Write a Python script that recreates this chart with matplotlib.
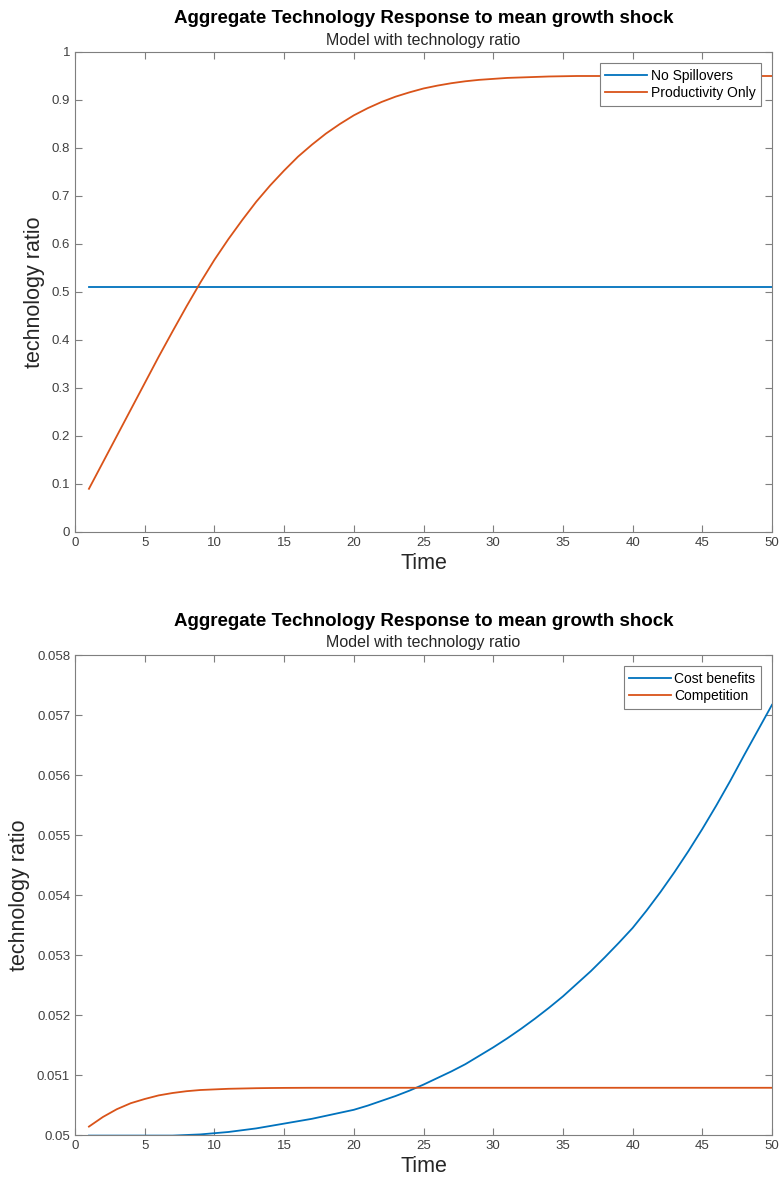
import numpy as np
import matplotlib.pyplot as plt

plt.rcParams['font.family'] = ['Liberation Sans', 'DejaVu Sans']

# datos
t = list(range(1, 51))

no_spill = [0.51] * 50
prod_only = [0.09, 0.145, 0.20, 0.255, 0.31, 0.365, 0.418, 0.47, 0.52, 0.567,
             0.61, 0.65, 0.688, 0.722, 0.753, 0.782, 0.807, 0.83, 0.85, 0.868,
             0.883, 0.896, 0.907, 0.916, 0.924, 0.93, 0.935, 0.939, 0.942, 0.944,
             0.946, 0.947, 0.948, 0.949, 0.9495, 0.95, 0.95, 0.95, 0.95, 0.95,
             0.95, 0.95, 0.95, 0.95, 0.95, 0.95, 0.95, 0.95, 0.95, 0.95]

# desvio sobre 0.05, en unidades de 1e-5
cost_dev = [-1, -1, -1, -1, -1, -1, -1, 0, 1, 3,
            5, 8, 11, 15, 19, 23, 27, 32, 37, 42,
            49, 57, 65, 74, 84, 95, 106, 118, 132, 146,
            161, 177, 194, 212, 231, 252, 273, 296, 320, 345,
            374, 405, 438, 473, 510, 549, 590, 633, 675, 717]
comp_dev = [14, 30, 43, 53, 60, 66, 70, 73, 75, 76,
            77, 77.5, 78, 78.3, 78.5, 78.6, 78.7, 78.7, 78.7, 78.7] + [78.7] * 30

cost_benefits = [0.05 + d * 1e-5 for d in cost_dev]
competition = [0.05 + d * 1e-5 for d in comp_dev]

top_yticks = [0, 0.1, 0.2, 0.3, 0.4, 0.5, 0.6, 0.7, 0.8, 0.9, 1]
top_ylabels = ['0', '0.1', '0.2', '0.3', '0.4', '0.5', '0.6', '0.7', '0.8', '0.9', '1']
bot_yticks = [0.05, 0.051, 0.052, 0.053, 0.054, 0.055, 0.056, 0.057, 0.058]
bot_ylabels = ['0.05', '0.051', '0.052', '0.053', '0.054', '0.055', '0.056', '0.057', '0.058']
xticks = list(range(0, 51, 5))

azul = '#0072BD'
rojo = '#D95319'
gris = '#7f7f7f'

fig = plt.figure(figsize=(7.81, 11.86), dpi=100)
ax1 = fig.add_axes([75 / 781, 1 - 532 / 1186, 697 / 781, 480 / 1186])
ax2 = fig.add_axes([75 / 781, 1 - 1135 / 1186, 697 / 781, 480 / 1186])


def estilo(ax):
    for s in ax.spines.values():
        s.set_color(gris)
        s.set_linewidth(0.8)
    ax.tick_params(direction='in', top=True, right=True, colors=gris,
                   labelcolor='#404040', labelsize=9.5, length=5, width=0.8)
    ax.set_xlim(0, 50)
    ax.set_xticks(xticks)
    ax.set_xlabel('Time', fontsize=15.5, color='#262626', labelpad=3)
    ax.text(0.5, 1.07, 'Aggregate Technology Response to mean growth shock',
            transform=ax.transAxes, ha='center', va='center',
            fontsize=13.5, fontweight='bold', color='black')
    ax.text(0.5, 1.025, 'Model with technology ratio', transform=ax.transAxes,
            ha='center', va='center', fontsize=11.5, color='#262626')


def leyenda(ax):
    leg = ax.legend(loc='upper right', fontsize=10, fancybox=False, framealpha=1,
                    edgecolor=gris, handlelength=3.0, borderaxespad=0.8,
                    borderpad=0.4, labelspacing=0.25, handletextpad=0.25)
    leg.get_frame().set_linewidth(0.8)


ax1.plot(t, no_spill, color=azul, lw=1.3, label='No Spillovers')
ax1.plot(t, prod_only, color=rojo, lw=1.3, label='Productivity Only')
estilo(ax1)
ax1.set_ylim(0, 1)
ax1.set_yticks(top_yticks)
ax1.set_yticklabels(top_ylabels)
ax1.set_ylabel('technology ratio', fontsize=15.5, color='#262626', labelpad=5)
leyenda(ax1)

ax2.plot(t, cost_benefits, color=azul, lw=1.3, label='Cost benefits')
ax2.plot(t, competition, color=rojo, lw=1.3, label='Competition')
estilo(ax2)
ax2.set_ylim(0.05, 0.058)
ax2.set_yticks(bot_yticks)
ax2.set_yticklabels(bot_ylabels)
ax2.set_ylabel('technology ratio', fontsize=15.5, color='#262626', labelpad=5)
leyenda(ax2)

plt.savefig('out.png', dpi=100)
